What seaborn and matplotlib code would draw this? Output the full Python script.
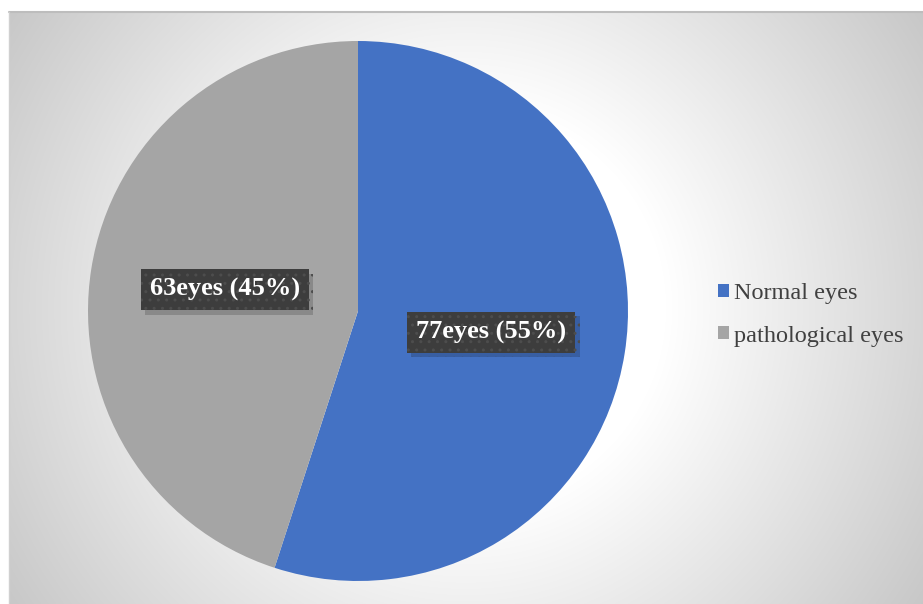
import numpy as np
import matplotlib
matplotlib.use("Agg")
import matplotlib.pyplot as plt
from matplotlib.patches import Patch
import matplotlib.patheffects as pe
import seaborn as sns

categories = ["Normal eyes", "pathological eyes"]
counts = [77, 63]
colors = ["#4472C4", "#A5A5A5"]

sns.set_theme(style="white")
plt.rcParams["font.family"] = ["Liberation Serif", "DejaVu Serif"]

W, H = 923, 604
fig = plt.figure(figsize=(W / 100, H / 100), dpi=100)
fig.patch.set_facecolor("white")

# background chart area with circular radial gradient
bx0, by_top = 9, 12
bg = fig.add_axes([bx0 / W, 0, 1 - bx0 / W, (H - by_top) / H])
px = np.arange(bx0, W) + 0.5
py = np.arange(by_top, H) + 0.5
xx, yy = np.meshgrid(px, py)
d = np.sqrt((xx - 466) ** 2 + (yy - 308) ** 2)
grey = np.clip(1.0 - 0.00063 * np.maximum(d - 200, 0), 0, 1)
img = np.dstack([grey, grey, grey])
bg.imshow(img, aspect="auto", extent=[0, 1, 0, 1], interpolation="bilinear")
bg.set_xlim(0, 1)
bg.set_ylim(0, 1)
bg.set_xticks([])
bg.set_yticks([])
for s in bg.spines.values():
    s.set_visible(False)
bg.plot([0, 1], [1, 1], color="#bdbdbd", lw=1.5, transform=bg.transAxes, clip_on=False)
bg.plot([0, 0], [0, 1], color="#d0d0d0", lw=1.0, transform=bg.transAxes, clip_on=False)

# pie axes
cx, cy, rad = 358, 311, 270
ax = fig.add_axes([(cx - rad) / W, (H - cy - rad) / H, 2 * rad / W, 2 * rad / H])
ax.set_facecolor("none")
total = sum(counts)


def fmt(p):
    return f"{int(round(p * total / 100))}eyes ({p:.0f}%)"


wedges, texts, autotexts = ax.pie(
    counts, colors=colors, startangle=90, counterclock=False,
    autopct=fmt, pctdistance=0.5, radius=1.0,
    wedgeprops=dict(linewidth=0),
)
ax.set_xlim(-1, 1)
ax.set_ylim(-1, 1)
ax.set_aspect("auto")

for at in autotexts:
    at.set_color("white")
    at.set_fontweight("bold")
    at.set_fontsize(19)
    at.set_bbox(dict(boxstyle="square,pad=0.34", facecolor="#3d3d3d",
                     edgecolor="#4d4d4d", hatch="..", linewidth=0))
    at.set_zorder(5)
    at.get_bbox_patch().set_path_effects([
        pe.SimplePatchShadow(offset=(3, -3), shadow_rgbFace="black", alpha=0.17),
        pe.Normal(),
    ])

handles = [Patch(facecolor=c, edgecolor="none") for c in colors]
leg = fig.legend(handles, categories, loc="center left",
                 bbox_to_anchor=(706 / W, 1 - 315 / H), frameon=False,
                 fontsize=17.5, handlelength=0.45, handleheight=0.45,
                 handletextpad=0.2, labelspacing=0.87, borderpad=0)
for txt in leg.get_texts():
    txt.set_color("#404040")

fig.savefig("out.png", dpi=100, facecolor="white")
